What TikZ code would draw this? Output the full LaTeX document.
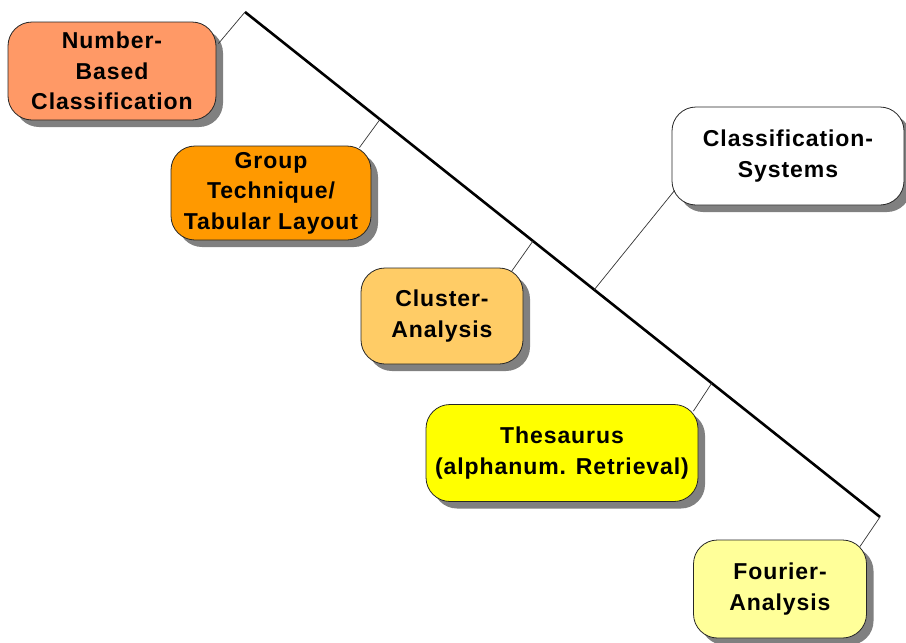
\documentclass[tikz,border=0pt]{standalone}
\usepackage{fontspec}
\setmainfont{Liberation Sans}[LetterSpace=4]
\usetikzlibrary{shadows,calc}
\definecolor{salmon}{HTML}{FF9966}
\definecolor{deeporange}{HTML}{FF9900}
\definecolor{lightorange}{HTML}{FFCC66}
\definecolor{brightyellow}{HTML}{FFFF00}
\definecolor{paleyellow}{HTML}{FFFF99}
\begin{document}
\begin{tikzpicture}[x=1pt,y=-1pt,
  box/.style={draw=black!85, line width=0.8pt, rounded corners=24pt,
    align=center, inner sep=0pt,
    font=\bfseries\fontsize{23}{30.5}\selectfont,
    drop shadow={shadow xshift=7pt, shadow yshift=-7pt, fill=black!50, opacity=1}},
  stem/.style={line width=0.7pt, draw=black!80},
  spine/.style={line width=2.6pt, draw=black}]
\useasboundingbox (0,0) rectangle (906,643);

% main diagonal
\coordinate (top) at (245,12);
\coordinate (bend) at (880,517);
\draw[spine] (top) -- (bend);

% boxes
\node[box, fill=salmon, minimum width=208pt, minimum height=98pt] (nb) at (112,71)
  {Number-\\Based\\Classification};
\node[box, fill=deeporange, minimum width=200pt, minimum height=94pt] (gt) at (271,193)
  {Group\\Technique/\\Tabular Layout};
\node[box, fill=lightorange, minimum width=162pt, minimum height=96pt] (ca) at (442,316)
  {Cluster-\\Analysis};
\node[box, fill=white, minimum width=232pt, minimum height=98pt] (cs) at (788,156)
  {Classification-\\Systems};
\node[box, fill=brightyellow, minimum width=272pt, minimum height=97pt] (th) at (562,453)
  {Thesaurus\\(alphanum. Retrieval)};
\node[box, fill=paleyellow, minimum width=173pt, minimum height=98pt] (fa) at (780,589)
  {Fourier-\\Analysis};

% attachment points on the diagonal
\coordinate (s2) at ($(top)!0.2126!(bend)$);
\coordinate (s3) at ($(top)!0.4535!(bend)$);
\coordinate (s4) at ($(top)!0.55!(bend)$);
\coordinate (s5) at ($(top)!0.735!(bend)$);

% stems from boxes to the diagonal
\draw[stem] ($(nb.north east)+(2,22)$) -- (top);
\draw[stem] ($(gt.north east)+(-12,2)$) -- (s2);
\draw[stem] ($(ca.north east)+(-12,4)$) -- (s3);
\draw[stem] ($(cs.south west)+(3,-15)$) -- (s4);
\draw[stem] ($(th.north east)+(-5,7)$) -- (s5);
\draw[stem] ($(fa.north east)+(-7,7)$) -- (bend);
\end{tikzpicture}
\end{document}
